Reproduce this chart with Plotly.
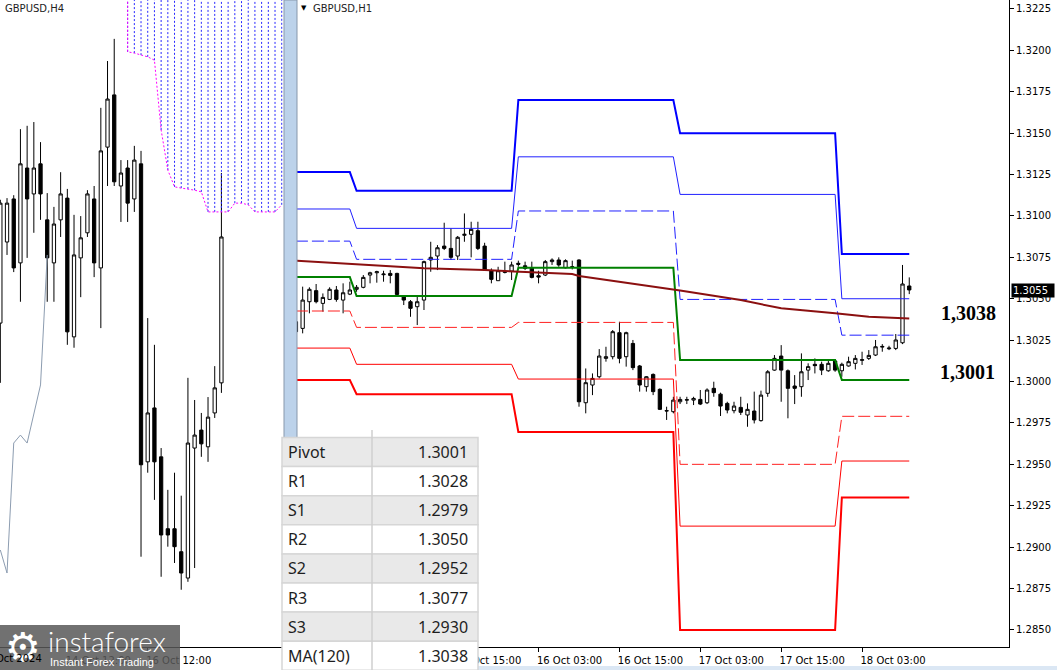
import plotly.graph_objects as go

W, H = 1057, 670

# ================= H1 chart (x = hours counted from 15 Oct 00:00) =================
h1_hour = list(range(-9, 83))
h1_open = [1.30361, 1.30321, 1.30482, 1.30549, 1.30472, 1.30496, 1.30553, 1.30492, 1.30528,
           1.30557, 1.30569, 1.30643, 1.30657, 1.30645, 1.30653, 1.30653, 1.30516, 1.30482, 1.30452,
           1.30492, 1.30734, 1.30758, 1.30818, 1.30804, 1.30758, 1.30883, 1.30889, 1.30911, 1.30818,
           1.30669, 1.30609, 1.30659, 1.30667, 1.30714, 1.30699, 1.30687, 1.30639, 1.30643, 1.30724,
           1.30734, 1.30687, 1.30693, 1.30734, 1.29872, 1.29979, 1.30029, 1.30140, 1.30150, 1.30295,
           1.30150, 1.30230, 1.30094, 1.29969, 1.30043, 1.29953, 1.29822, 1.29818, 1.29878, 1.29888,
           1.29888, 1.29892, 1.29872, 1.29959, 1.29924, 1.29868, 1.29824, 1.29844, 1.29798, 1.29822,
           1.29764, 1.29929, 1.30069, 1.30154, 1.30065, 1.29973, 1.29969, 1.30069, 1.30104, 1.30104,
           1.30065, 1.30124, 1.30065, 1.30094, 1.30110, 1.30128, 1.30140, 1.30160, 1.30208, 1.30198,
           1.30200, 1.30234, 1.30577]
h1_high = [1.30371, 1.30573, 1.30569, 1.30589, 1.30532, 1.30569, 1.30577, 1.30593, 1.30603,
           1.30583, 1.30643, 1.30663, 1.30669, 1.30669, 1.30673, 1.30657, 1.30522, 1.30492, 1.30522,
           1.30730, 1.30844, 1.30824, 1.30959, 1.30925, 1.30879, 1.31015, 1.30965, 1.30965, 1.30838,
           1.30683, 1.30693, 1.30724, 1.30724, 1.30730, 1.30724, 1.30724, 1.30669, 1.30734, 1.30744,
           1.30750, 1.30738, 1.30730, 1.30738, 1.30079, 1.30049, 1.30196, 1.30210, 1.30311, 1.30361,
           1.30301, 1.30251, 1.30100, 1.30033, 1.30049, 1.29959, 1.29848, 1.29908, 1.29908, 1.29908,
           1.29908, 1.29949, 1.29959, 1.29999, 1.29933, 1.29878, 1.29878, 1.29908, 1.29868, 1.29939,
           1.29945, 1.30069, 1.30160, 1.30220, 1.30073, 1.30039, 1.30170, 1.30110, 1.30140, 1.30120,
           1.30130, 1.30134, 1.30114, 1.30150, 1.30160, 1.30180, 1.30190, 1.30251, 1.30226, 1.30216,
           1.30287, 1.30704, 1.30629]
h1_low = [1.30291, 1.30291, 1.30412, 1.30472, 1.30422, 1.30492, 1.30482, 1.30412, 1.30522,
          1.30542, 1.30563, 1.30593, 1.30597, 1.30603, 1.30593, 1.30522, 1.30462, 1.30391, 1.30341,
          1.30432, 1.30663, 1.30673, 1.30794, 1.30734, 1.30734, 1.30844, 1.30750, 1.30794, 1.30669,
          1.30593, 1.30609, 1.30653, 1.30613, 1.30693, 1.30673, 1.30623, 1.30593, 1.30637, 1.30704,
          1.30693, 1.30683, 1.30677, 1.29848, 1.29808, 1.29918, 1.30019, 1.30120, 1.30134, 1.30110,
          1.30090, 1.30069, 1.29939, 1.29939, 1.29918, 1.29828, 1.29768, 1.29808, 1.29864, 1.29864,
          1.29858, 1.29858, 1.29864, 1.29908, 1.29792, 1.29808, 1.29808, 1.29798, 1.29727, 1.29747,
          1.29758, 1.29908, 1.30065, 1.29878, 1.29778, 1.29864, 1.29908, 1.30009, 1.30049, 1.30039,
          1.30059, 1.30059, 1.30029, 1.30090, 1.30073, 1.30100, 1.30130, 1.30154, 1.30180, 1.30190,
          1.30190, 1.30226, 1.30528]
h1_close = [1.30301, 1.30492, 1.30557, 1.30482, 1.30508, 1.30557, 1.30496, 1.30536, 1.30553,
            1.30569, 1.30629, 1.30657, 1.30663, 1.30649, 1.30641, 1.30526, 1.30492, 1.30442, 1.30482,
            1.30724, 1.30750, 1.30808, 1.30804, 1.30750, 1.30871, 1.30889, 1.30919, 1.30804, 1.30673,
            1.30617, 1.30669, 1.30663, 1.30704, 1.30708, 1.30683, 1.30629, 1.30631, 1.30724, 1.30734,
            1.30704, 1.30730, 1.30691, 1.29878, 1.29993, 1.30019, 1.30154, 1.30150, 1.30301, 1.30140,
            1.30295, 1.30084, 1.29979, 1.30029, 1.29939, 1.29832, 1.29824, 1.29888, 1.29892, 1.29890,
            1.29898, 1.29864, 1.29949, 1.29933, 1.29852, 1.29828, 1.29852, 1.29814, 1.29832, 1.29768,
            1.29918, 1.30059, 1.30140, 1.30069, 1.29959, 1.29959, 1.30059, 1.30090, 1.30096, 1.30069,
            1.30110, 1.30069, 1.30104, 1.30120, 1.30140, 1.30132, 1.30158, 1.30210, 1.30212, 1.30202,
            1.30251, 1.30589, 1.30553]

# daily pivot levels: 14 Oct (tail), 15 Oct, 16 Oct, 17 Oct, 18 Oct
day_first_hour = [-9, 0, 24, 48, 72]
day_last_hour = [-1, 23, 47, 71, 82]
lvl_R3 = [1.31265, 1.31152, 1.31700, 1.31499, 1.3077]
lvl_R2 = [1.31042, 1.30925, 1.31357, 1.31130, 1.3050]
lvl_R1 = [1.30848, 1.30738, 1.31030, 1.30496, 1.3028]
lvl_P = [1.30631, 1.30516, 1.30687, 1.30130, 1.3001]
lvl_S1 = [1.30426, 1.30327, 1.30357, 1.29500, 1.2979]
lvl_S2 = [1.30202, 1.30104, 1.30015, 1.29127, 1.2952]
lvl_S3 = [1.30009, 1.29923, 1.29695, 1.28500, 1.2930]

# MA(120)
ma_hour = [-9, 10, 19, 32, 33, 40, 47, 48, 57, 63, 71, 76, 82]
ma_value = [1.30730, 1.30684, 1.30673, 1.30649, 1.30637, 1.30595, 1.30557, 1.30550,
            1.30492, 1.30442, 1.30412, 1.30391, 1.30380]

h1_tick_hour = [15, 27, 39, 51, 63, 75]
h1_tick_text = ["15 Oct 15:00", "16 Oct 03:00", "16 Oct 15:00", "17 Oct 03:00",
                "17 Oct 15:00", "18 Oct 03:00"]
h1_range_x = [-8.84, 96.8]
h1_range_y = [1.28397, 1.32304]
last_price = 1.3055

# ================= H4 chart (x = bar index) =================
h4_bar = list(range(0, 34))
h4_open = [1.30344, 1.30538, 1.30641, 1.30488, 1.30715, 1.30653, 1.30725, 1.30591, 1.30488,
           1.30591, 1.30643, 1.30311, 1.30500, 1.30560, 1.30641, 1.30476, 1.30765, 1.30890,
           1.30672, 1.30715, 1.30641, 1.30725, 1.30012, 1.30141, 1.30024, 1.29852, 1.29852,
           1.29797, 1.29734, 1.30045, 1.30088, 1.30048, 1.30129, 1.30201]
h4_high = [1.30639, 1.30643, 1.30650, 1.30808, 1.30816, 1.30825, 1.30777, 1.30655, 1.30622,
           1.30705, 1.30665, 1.30603, 1.30600, 1.30662, 1.30672, 1.30859, 1.30971, 1.31024,
           1.30734, 1.30734, 1.30768, 1.30756, 1.30356, 1.30292, 1.30045, 1.29945, 1.29986,
           1.29931, 1.30213, 1.30160, 1.30129, 1.30167, 1.30241, 1.30703]
h4_low = [1.30201, 1.30507, 1.30466, 1.30395, 1.30500, 1.30560, 1.30591, 1.30395, 1.30395,
          1.30550, 1.30292, 1.30285, 1.30406, 1.30550, 1.30454, 1.30332, 1.30672, 1.30672,
          1.30586, 1.30586, 1.30610, 1.29785, 1.29986, 1.29921, 1.29737, 1.29809, 1.29770,
          1.29706, 1.29725, 1.29758, 1.30024, 1.30012, 1.30117, 1.30177]
h4_close = [1.30631, 1.30631, 1.30476, 1.30725, 1.30641, 1.30715, 1.30653, 1.30500, 1.30581,
            1.30653, 1.30323, 1.30507, 1.30548, 1.30653, 1.30488, 1.30756, 1.30880, 1.30682,
            1.30703, 1.30631, 1.30734, 1.30005, 1.30129, 1.30012, 1.29837, 1.29837, 1.29809,
            1.29746, 1.30057, 1.30076, 1.30055, 1.30119, 1.30189, 1.30550]

chikou_bar = [0, 1, 2, 3, 4, 5, 6, 7]
chikou_value = [1.29801, 1.29746, 1.30057, 1.30076, 1.30057, 1.30124, 1.30196, 1.30507]

cloud_bar = list(range(19, 43))
cloud_low = [1.30993, 1.30990, 1.30985, 1.30981, 1.30973, 1.30806, 1.30710, 1.30670,
             1.30667, 1.30665, 1.30662, 1.30658, 1.30610, 1.30610, 1.30610, 1.30610,
             1.30631, 1.30631, 1.30627, 1.30610, 1.30610, 1.30610, 1.30610, 1.30627]
cloud_high = [1.3140] * len(cloud_bar)

h4_tick_bar = [10, 22]
h4_tick_text = ["14 Oct 12:00", "16 Oct 12:00"]
h4_range_x = [-0.05, 42.34]
h4_range_y = [1.29569, 1.31117]

# ================= info table =================
table_labels = ["Pivot", "R1", "S1", "R2", "S2", "R3", "S3", "MA(120)"]
table_values = [lvl_P[-1], lvl_R1[-1], lvl_S1[-1], lvl_R2[-1], lvl_S2[-1], lvl_R3[-1],
                lvl_S3[-1], 1.3038]


def px(x):
    return x / W


def py(y):
    return 1 - y / H


def level_xy(vals):
    xs, ys = [], []
    for a, b, v in zip(day_first_hour, day_last_hour, vals):
        xs += [a, b]
        ys += [v, v]
    return xs, ys


fig = go.Figure()

# ---------- H4 panel ----------
cx, cy = [], []
for b, lo, hi in zip(cloud_bar, cloud_low, cloud_high):
    cx += [b, b, None]
    cy += [lo, hi, None]
fig.add_trace(go.Scatter(x=cx, y=cy, mode="lines", xaxis="x2", yaxis="y2",
                         line=dict(color="#2828ff", width=1, dash="2px,2px"), hoverinfo="skip"))
fig.add_trace(go.Scatter(x=[cloud_bar[0]] + cloud_bar, y=[cloud_high[0]] + cloud_low, mode="lines",
                         xaxis="x2", yaxis="y2",
                         line=dict(color="#ff00ff", width=1, dash="2px,2px"), hoverinfo="skip"))
fig.add_trace(go.Scatter(x=chikou_bar, y=chikou_value, mode="lines", xaxis="x2", yaxis="y2",
                         line=dict(color="#8c9cb0", width=1), hoverinfo="skip"))
fig.add_trace(go.Candlestick(x=h4_bar, open=h4_open, high=h4_high, low=h4_low, close=h4_close,
                             xaxis="x2", yaxis="y2",
                             increasing=dict(fillcolor="white", line=dict(color="black", width=1)),
                             decreasing=dict(fillcolor="black", line=dict(color="black", width=1)),
                             hoverinfo="skip"))

# ---------- H1 panel ----------
level_styles = [
    (lvl_R3, "#0000ff", 2, "solid"),
    (lvl_R2, "#2020ff", 1, "solid"),
    (lvl_R1, "#2020ff", 1, "12px,4px"),
    (lvl_S1, "#ff2020", 1, "12px,4px"),
    (lvl_S2, "#ff0000", 1, "solid"),
    (lvl_S3, "#ff0000", 2, "solid"),
    (lvl_P, "#008000", 2, "solid"),
]
for vals, col, wd, dash in level_styles:
    xs, ys = level_xy(vals)
    fig.add_trace(go.Scatter(x=xs, y=ys, mode="lines", line=dict(color=col, width=wd, dash=dash),
                             hoverinfo="skip"))

fig.add_trace(go.Scatter(x=ma_hour, y=ma_value, mode="lines",
                         line=dict(color="#8b1010", width=2), hoverinfo="skip"))

fig.add_trace(go.Candlestick(x=h1_hour, open=h1_open, high=h1_high, low=h1_low, close=h1_close,
                             increasing=dict(fillcolor="white", line=dict(color="black", width=1)),
                             decreasing=dict(fillcolor="black", line=dict(color="black", width=1)),
                             hoverinfo="skip"))

axis_font = dict(family="DejaVu Sans", size=10, color="black")
ydom = [py(647), 1]

fig.update_layout(
    width=W, height=H,
    margin=dict(l=0, r=0, t=0, b=0),
    paper_bgcolor="white", plot_bgcolor="white",
    showlegend=False,
    xaxis=dict(domain=[px(297), px(1009)], range=h1_range_x, anchor="y",
               tickvals=h1_tick_hour, ticktext=h1_tick_text, ticks="outside", ticklen=4,
               tickcolor="black", ticklabelshift=31, tickfont=axis_font,
               showline=True, linecolor="black", linewidth=1, showgrid=False, zeroline=False,
               rangeslider=dict(visible=False), fixedrange=True),
    yaxis=dict(domain=ydom, range=h1_range_y, side="right", anchor="x",
               tick0=1.3, dtick=0.0025, tickformat=".4f", ticks="outside", ticklen=4,
               tickcolor="black", tickfont=axis_font,
               showline=True, linecolor="black", linewidth=1, showgrid=False, zeroline=False),
    xaxis2=dict(domain=[0, px(284)], range=h4_range_x, anchor="y2",
                tickvals=h4_tick_bar, ticktext=h4_tick_text, ticks="outside", ticklen=4,
                tickcolor="black", ticklabelshift=31, tickfont=axis_font,
                showline=True, linecolor="black", linewidth=1, showgrid=False, zeroline=False,
                rangeslider=dict(visible=False)),
    yaxis2=dict(domain=ydom, range=h4_range_y, anchor="x2", showticklabels=False, ticks="",
                showline=False, showgrid=False, zeroline=False),
)

shapes = []
annotations = []

# splitter between panels
shapes.append(dict(type="rect", xref="paper", yref="paper", x0=px(284), x1=px(297), y0=0, y1=1,
                   fillcolor="#bcd2ea", line=dict(color="#8797ab", width=1), layer="above"))

# bottom status strip
shapes.append(dict(type="rect", xref="paper", yref="paper", x0=px(478), x1=1, y0=0, y1=py(666),
                   fillcolor="#dbe7f4", line=dict(width=0), layer="above"))

# info table
tx0, tcol, tx1 = 282, 372, 478
ty0, rh = 437.5, 29.1
for k, (lab, val) in enumerate(zip(table_labels, table_values)):
    y_top = ty0 + k * rh
    shapes.append(dict(type="rect", xref="paper", yref="paper", x0=px(tx0), x1=px(tx1),
                       y0=py(y_top + rh), y1=py(y_top),
                       fillcolor="#e9e9e9" if k % 2 == 0 else "white",
                       line=dict(color="#d6d6d6", width=1.5), layer="above"))
    annotations.append(dict(xref="paper", yref="paper", x=px(tx0 + 4), y=py(y_top + rh / 2),
                            text=lab, showarrow=False, xanchor="left", yanchor="middle",
                            font=dict(family="Noto Sans", size=16, color="#1e1e1e")))
    annotations.append(dict(xref="paper", yref="paper", x=px(tx1 - 8), y=py(y_top + rh / 2),
                            text=f"{val:.4f}", showarrow=False, xanchor="right", yanchor="middle",
                            font=dict(family="Noto Sans", size=16, color="#1e1e1e")))
shapes.append(dict(type="line", xref="paper", yref="paper", x0=px(tcol), x1=px(tcol),
                   y0=0, y1=py(430), line=dict(color="#cfcfcf", width=1.5), layer="above"))

# logo
shapes.append(dict(type="rect", xref="paper", yref="paper", x0=0, x1=px(180), y0=0, y1=py(625),
                   fillcolor="rgba(88,88,88,0.85)", line=dict(width=0), layer="above"))
annotations.append(dict(xref="paper", yref="paper", x=px(23), y=py(647), text="⚙",
                        showarrow=False, xanchor="center", yanchor="middle",
                        font=dict(family="DejaVu Sans", size=40, color="white")))
annotations.append(dict(xref="paper", yref="paper", x=px(46), y=py(641), text="instaforex",
                        showarrow=False, xanchor="left", yanchor="middle",
                        font=dict(family="Lato", size=28, color="white", weight=300)))
annotations.append(dict(xref="paper", yref="paper", x=px(48), y=py(662), text="Instant Forex Trading",
                        showarrow=False, xanchor="left", yanchor="middle",
                        font=dict(family="Liberation Sans", size=11, color="white")))

# left panel first date label (tick is off-screen)
annotations.append(dict(xref="paper", yref="paper", x=px(44), y=py(658), text="11 Oct 2024",
                        showarrow=False, xanchor="right", yanchor="middle", font=axis_font))

# chart titles
annotations.append(dict(xref="paper", yref="paper", x=px(3), y=py(9), text="GBPUSD,H4",
                        showarrow=False, xanchor="left", yanchor="middle",
                        font=dict(family="DejaVu Sans", size=10, color="#222")))
annotations.append(dict(xref="paper", yref="paper", x=px(299), y=py(8), text="▼",
                        showarrow=False, xanchor="left", yanchor="middle",
                        font=dict(family="DejaVu Sans", size=7, color="black")))
annotations.append(dict(xref="paper", yref="paper", x=px(311), y=py(9), text="GBPUSD,H1",
                        showarrow=False, xanchor="left", yanchor="middle",
                        font=dict(family="DejaVu Sans", size=10, color="#222")))

# current price box
annotations.append(dict(xref="paper", yref="y", x=px(1011), y=last_price, text=f"{last_price:.4f}",
                        showarrow=False, xanchor="left", yanchor="middle", align="left",
                        bgcolor="black", borderpad=1, width=40,
                        font=dict(family="DejaVu Sans", size=10, color="white")))

# big level labels
serif = dict(family="Liberation Serif", size=20, color="black", weight="bold")
annotations.append(dict(xref="paper", yref="y", x=px(968), y=ma_value[-1], yshift=6,
                        text=f"{table_values[-1]:.4f}".replace(".", ","), showarrow=False,
                        xanchor="center", yanchor="middle", font=serif))
annotations.append(dict(xref="paper", yref="y", x=px(967), y=lvl_P[-1], yshift=8,
                        text=f"{lvl_P[-1]:.4f}".replace(".", ","), showarrow=False,
                        xanchor="center", yanchor="middle", font=serif))

fig.update_layout(shapes=shapes, annotations=annotations)
fig.write_html("out.html", config={"displayModeBar": False},
               post_script="document.body.style.margin='0';document.body.style.overflow='hidden';")
